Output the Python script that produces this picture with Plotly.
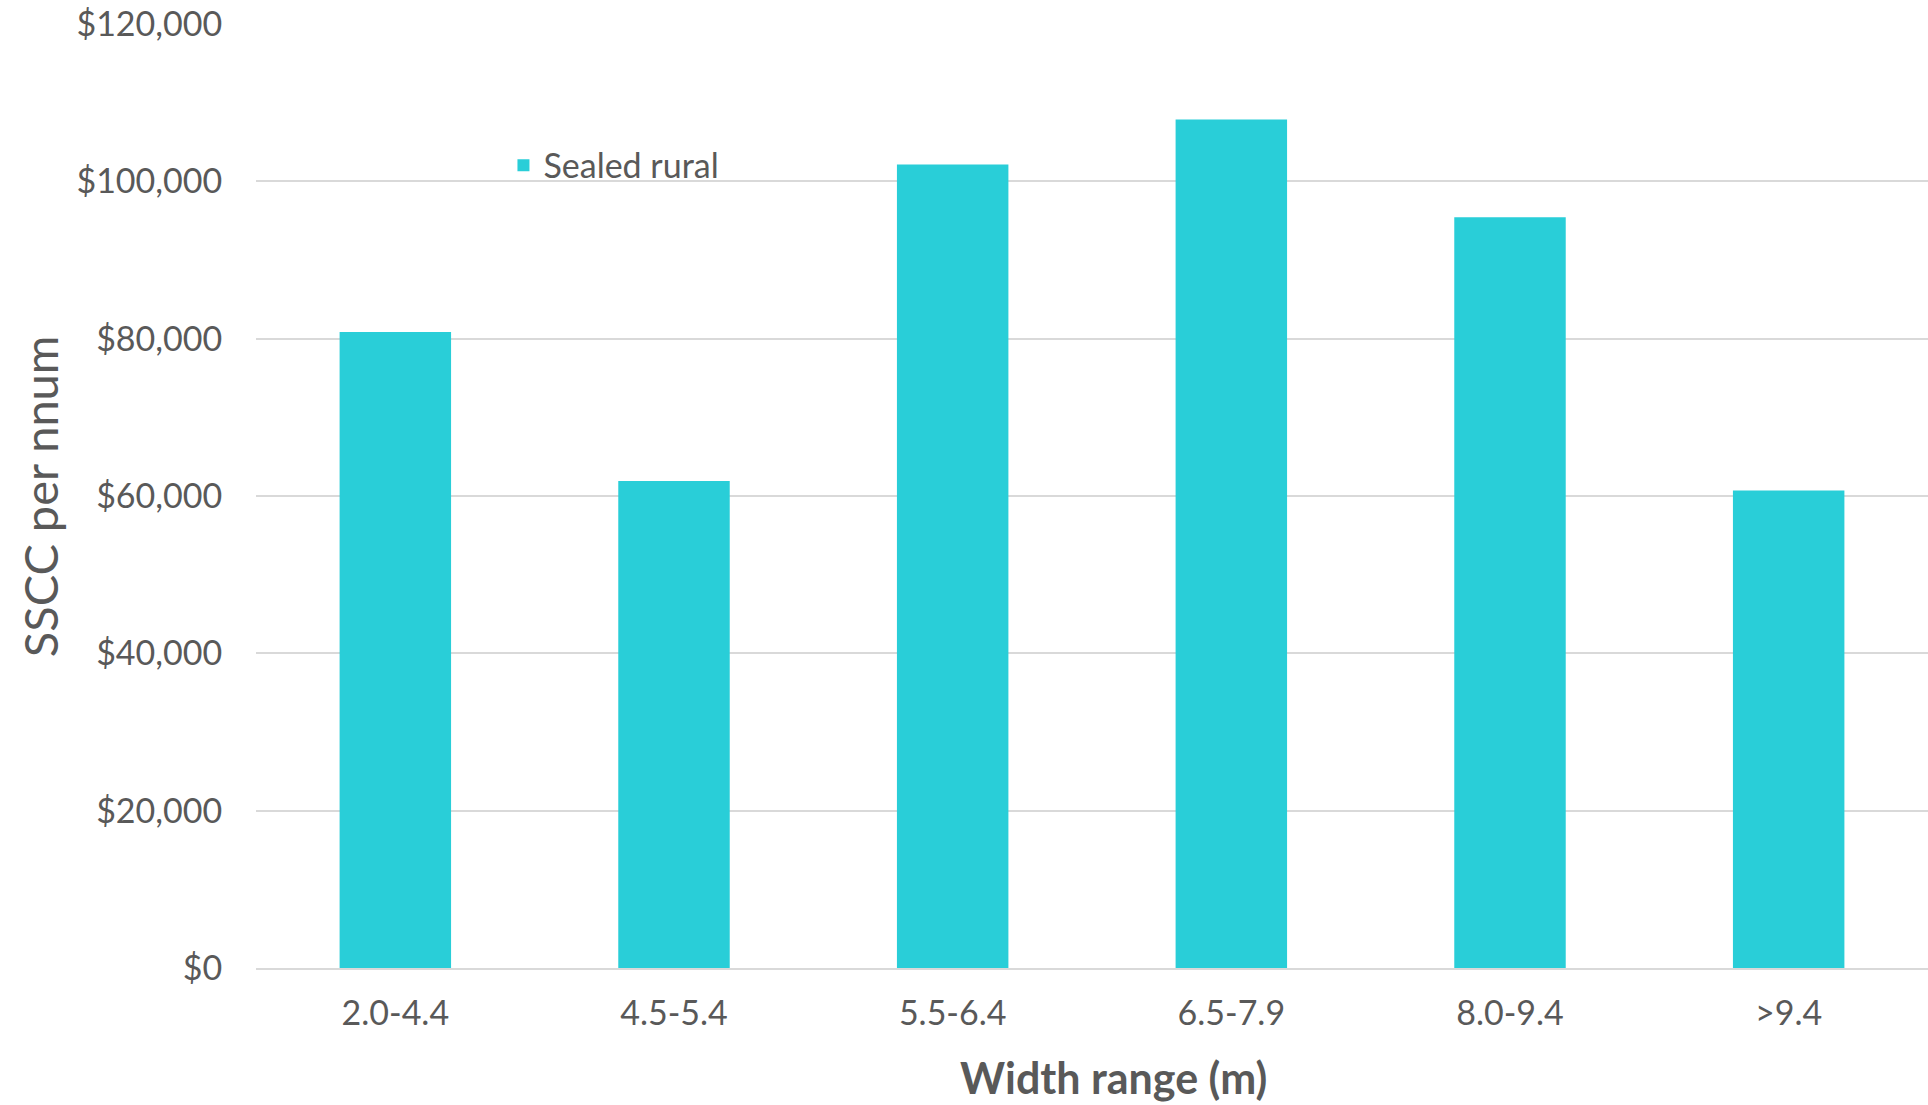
import plotly.graph_objects as go

categories = ["2.0-4.4", "4.5-5.4", "5.5-6.4", "6.5-7.9", "8.0-9.4", ">9.4"]
values = [80850, 61900, 102150, 107850, 95450, 60700]
series_name = "Sealed rural"
y_ticks = [0, 20000, 40000, 60000, 80000, 100000, 120000]
y_tick_labels = ["$0", "$20,000", "$40,000", "$60,000", "$80,000", "$100,000", "$120,000"]

FONT = "Lato"
TEXT = "#595959"
BAR = "#29CED8"

fig = go.Figure()
fig.add_trace(go.Bar(
    x=categories, y=values, name=series_name,
    marker=dict(color=BAR, line=dict(width=0)),
    width=0.4, showlegend=True,
))

fig.update_layout(
    width=1928, height=1105,
    margin=dict(l=256, r=0, t=24, b=137),
    paper_bgcolor="white", plot_bgcolor="white",
    font=dict(family=FONT, color=TEXT, size=34),
    showlegend=True,
    legend=dict(x=0.148, y=0.85, xanchor="left", yanchor="middle",
                bgcolor="rgba(0,0,0,0)", font=dict(size=34, color=TEXT, family=FONT),
                itemsizing="constant"),
    xaxis=dict(
        showgrid=False, showline=True, linecolor="#d9d9d9", linewidth=2,
        ticks="outside", ticklen=14, tickcolor="rgba(0,0,0,0)",
        tickfont=dict(size=34, color=TEXT, family=FONT),
    ),
    yaxis=dict(
        range=[0, 120000], tickvals=y_ticks, ticktext=y_tick_labels,
        showgrid=True, gridcolor="#d9d9d9", gridwidth=2,
        zeroline=False, showline=False,
        ticks="outside", ticklen=26, tickcolor="rgba(0,0,0,0)",
        tickfont=dict(size=34, color=TEXT, family=FONT),
    ),
    annotations=[
        dict(text="SSCC per nnum", xref="paper", yref="paper", x=-0.129, y=0.5,
             textangle=-90, showarrow=False, xanchor="center", yanchor="middle",
             font=dict(size=47, color=TEXT, family=FONT)),
        dict(text="<b>Width range (m)</b>", xref="paper", yref="paper", x=0.513, y=-0.116,
             showarrow=False, xanchor="center", yanchor="middle",
             font=dict(size=43, color=TEXT, family=FONT)),
    ],
)

fig.write_html("out.html", config={"displayModeBar": False},
               post_script="document.body.style.margin='0';document.body.style.overflow='hidden';")
